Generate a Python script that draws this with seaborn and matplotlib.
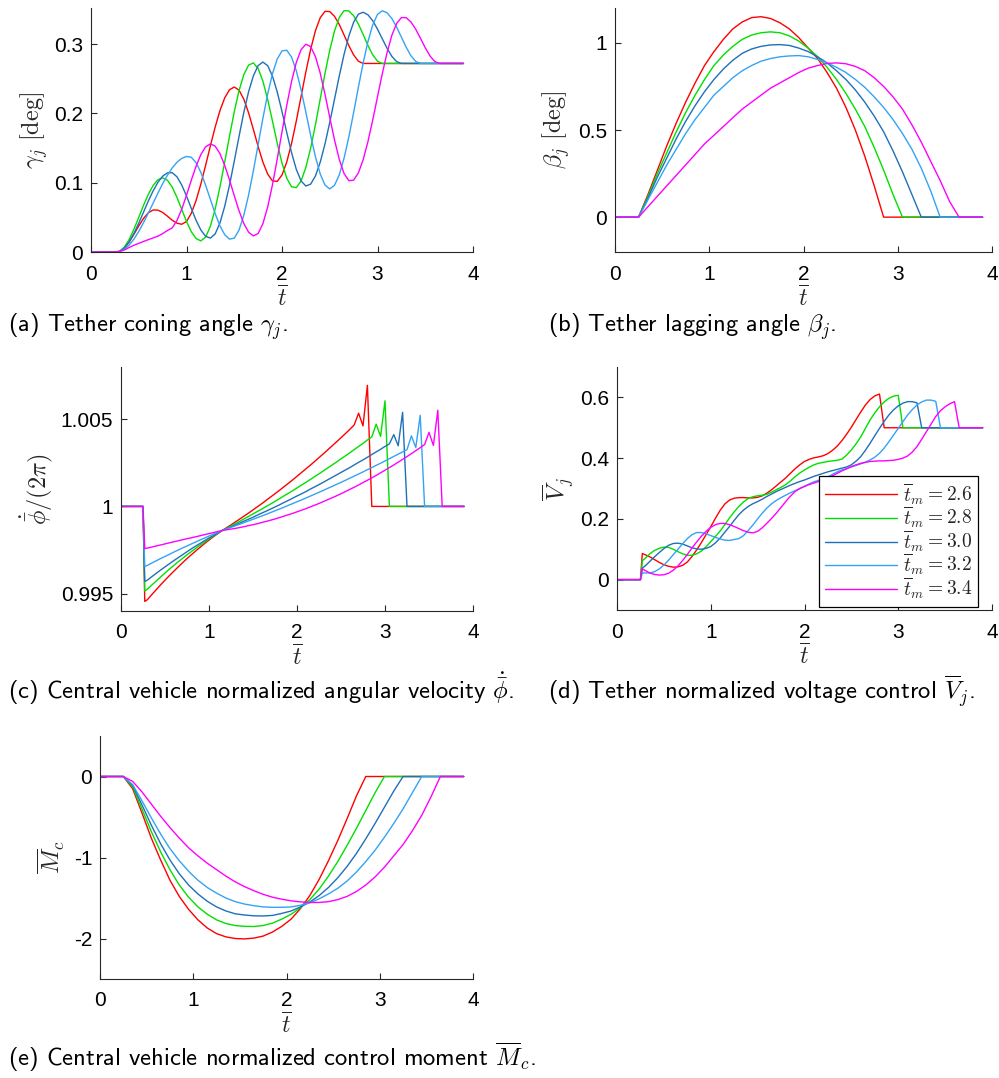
import numpy as np
import pandas as pd
import matplotlib
matplotlib.use("Agg")
import matplotlib.pyplot as plt
import seaborn as sns

# five manoeuvre durations
case_labels = [r"$\overline{t}_m = 2.6$", r"$\overline{t}_m = 2.8$", r"$\overline{t}_m = 3.0$",
               r"$\overline{t}_m = 3.2$", r"$\overline{t}_m = 3.4$"]
colors = ["#ff0000", "#00e000", "#1f70b8", "#33a3f5", "#ff00ff"]

xticks = [0, 1, 2, 3, 4]
xtick_labels = ["0", "1", "2", "3", "4"]

# time grids
t_a = np.round(np.concatenate([[0.0], np.arange(0.25, 3.9001, 0.05)]), 2)
t_cd = np.round(np.concatenate([[0.0, 0.25, 0.27], np.arange(0.30, 3.9001, 0.05)]), 2)
t_be = np.round(np.concatenate([[0.0], np.arange(0.25, 3.8501, 0.1), [3.9]]), 2)

# (a) tether coning angle gamma_j [deg]
gamma_red = [0, 0, 0.0008, 0.0058, 0.0146, 0.0257, 0.0376, 0.0484, 0.0565, 0.0606,
             0.0604, 0.0571, 0.0517, 0.0459, 0.0416, 0.0400,
             0.0440, 0.0557, 0.0742, 0.0979, 0.1249, 0.1531, 0.1801, 0.2038, 0.2223, 0.2340, 0.2380,
             0.2335, 0.2205, 0.2008, 0.1770, 0.1522, 0.1297, 0.1124, 0.1026, 0.1018,
             0.1111, 0.1299, 0.1566, 0.1891, 0.2245, 0.2599, 0.2924, 0.3191, 0.3379, 0.3472,
             0.3468, 0.3400, 0.3281, 0.3131, 0.2977, 0.2843, 0.2752, 0.2720] + [0.272] * 21
gamma_green = [0, 0, 0.0010, 0.0072, 0.0182, 0.0330, 0.0500, 0.0673, 0.0832, 0.0959, 0.1042, 0.1070,
               0.1035, 0.0937, 0.0789, 0.0615, 0.0441, 0.0293, 0.0195, 0.0160,
               0.0214, 0.0372, 0.0619, 0.0936, 0.1296, 0.1668, 0.2022, 0.2328, 0.2558, 0.2696,
               0.2728, 0.2648, 0.2465, 0.2201, 0.1890, 0.1570, 0.1283, 0.1064, 0.0941,
               0.0929, 0.1025, 0.1221, 0.1499, 0.1836, 0.2205, 0.2574, 0.2911, 0.3189, 0.3385, 0.3481,
               0.3478, 0.3409, 0.3288, 0.3137, 0.2980, 0.2844, 0.2752, 0.2720] + [0.272] * 17
gamma_blue = [0, 0, 0.0008, 0.0057, 0.0146, 0.0269, 0.0416, 0.0575, 0.0735, 0.0880, 0.1004, 0.1093, 0.1142,
              0.1145, 0.1085, 0.0967, 0.0808, 0.0630, 0.0458, 0.0318, 0.0227,
              0.0200, 0.0261, 0.0418, 0.0658, 0.0963, 0.1309, 0.1667, 0.2013, 0.2311, 0.2540, 0.2689, 0.2740,
              0.2688, 0.2539, 0.2310, 0.2027, 0.1723, 0.1433, 0.1191, 0.1024, 0.0952,
              0.0979, 0.1096, 0.1294, 0.1558, 0.1869, 0.2205, 0.2541, 0.2852, 0.3116, 0.3314, 0.3431,
              0.3459, 0.3422, 0.3336, 0.3215, 0.3076, 0.2939, 0.2823, 0.2747, 0.2720] + [0.272] * 13
gamma_lblue = [0, 0, 0.0005, 0.0038, 0.0100, 0.0187, 0.0296, 0.0423, 0.0561, 0.0704, 0.0848, 0.0984, 0.1107,
               0.1212, 0.1295, 0.1351, 0.1378,
               0.1367, 0.1289, 0.1149, 0.0965, 0.0759, 0.0555, 0.0378, 0.0250, 0.0186,
               0.0199, 0.0316, 0.0529, 0.0821, 0.1170, 0.1550, 0.1930, 0.2279, 0.2571, 0.2784, 0.2901,
               0.2911, 0.2812, 0.2614, 0.2338, 0.2016, 0.1682, 0.1374, 0.1126, 0.0966, 0.0910,
               0.0962, 0.1114, 0.1354, 0.1661, 0.2012, 0.2378, 0.2729, 0.3036, 0.3276, 0.3428, 0.3480,
               0.3451, 0.3369, 0.3245, 0.3100, 0.2955, 0.2831, 0.2749, 0.2720] + [0.272] * 9
gamma_mag = [0, 0, 0.0008, 0.0030, 0.0065, 0.0098, 0.0125, 0.0152, 0.0178, 0.0203, 0.0228, 0.0265, 0.0310,
             0.0347, 0.0454, 0.0617, 0.0819, 0.1034, 0.1237, 0.1405, 0.1517, 0.1560,
             0.1527, 0.1420, 0.1251, 0.1040, 0.0813, 0.0595, 0.0412, 0.0286, 0.0232,
             0.0266, 0.0409, 0.0649, 0.0968, 0.1340, 0.1734, 0.2117, 0.2460, 0.2735, 0.2919, 0.2998,
             0.2963, 0.2819, 0.2581, 0.2277, 0.1942, 0.1616, 0.1334, 0.1131, 0.1029,
             0.1037, 0.1142, 0.1332, 0.1593, 0.1904, 0.2239, 0.2571, 0.2875, 0.3124, 0.3296, 0.3382,
             0.3380, 0.3319, 0.3214, 0.3083, 0.2946, 0.2828, 0.2748, 0.2720] + [0.272] * 5

# (b) tether lagging angle beta_j [deg]
beta_red = [0, 0, 0.13, 0.27, 0.41, 0.54, 0.66, 0.77, 0.87, 0.95, 1.02, 1.08,
            1.12, 1.145, 1.15, 1.14, 1.115, 1.08, 1.03, 0.97, 0.91, 0.83,
            0.74, 0.63, 0.50, 0.35, 0.18] + [0] * 12
beta_green = [0, 0, 0.12, 0.25, 0.37, 0.49, 0.60, 0.70, 0.79, 0.87, 0.93, 0.98,
              1.02, 1.045, 1.058, 1.063, 1.058, 1.04, 1.01, 0.97, 0.92, 0.86,
              0.79, 0.71, 0.62, 0.52, 0.40, 0.27, 0.13] + [0] * 10
beta_blue = [0, 0, 0.11, 0.23, 0.34, 0.45, 0.55, 0.64, 0.72, 0.79, 0.85, 0.90,
             0.94, 0.965, 0.98, 0.988, 0.99, 0.985, 0.97, 0.95, 0.92, 0.885,
             0.84, 0.79, 0.73, 0.66, 0.58, 0.49, 0.38, 0.26, 0.13] + [0] * 8
beta_lblue = [0, 0, 0.10, 0.20, 0.30, 0.39, 0.48, 0.56, 0.63, 0.70, 0.75, 0.80,
              0.84, 0.87, 0.895, 0.91, 0.92, 0.925, 0.927, 0.92, 0.905, 0.885,
              0.86, 0.83, 0.79, 0.745, 0.69, 0.63, 0.56, 0.48, 0.39, 0.28, 0.15] + [0] * 6
beta_mag = [0, 0, 0.06, 0.12, 0.18, 0.24, 0.30, 0.36, 0.42, 0.47, 0.52, 0.57,
            0.62, 0.66, 0.70, 0.74, 0.77, 0.80, 0.83, 0.855, 0.87, 0.882,
            0.885, 0.88, 0.865, 0.84, 0.80, 0.75, 0.69, 0.62, 0.53, 0.43, 0.32, 0.21, 0.09] + [0] * 4

# (c) central vehicle normalized angular velocity
phid_red = [1, 1, 0.99455, 0.99465, 0.99494, 0.99522, 0.99550, 0.99577, 0.99603, 0.99628, 0.99653,
            0.99677, 0.99701, 0.99723, 0.99745, 0.99766, 0.99787, 0.99807, 0.99826, 0.99844, 0.99862,
            0.99878, 0.99894, 0.99911, 0.99928, 0.99945, 0.99962, 0.99980, 0.99998, 1.00016, 1.00035,
            1.00054, 1.00073, 1.00092, 1.00112, 1.00132, 1.00152, 1.00173, 1.00194, 1.00215, 1.00236,
            1.00258, 1.00280, 1.00302, 1.00325, 1.00348, 1.00371, 1.00394, 1.00418, 1.00442,
            1.00468, 1.00535, 1.00462, 1.00695] + [1.0] * 22
phid_green = [1, 1, 0.99515, 0.99525, 0.99549, 0.99572, 0.99595, 0.99618, 0.99640, 0.99661, 0.99682,
              0.99702, 0.99722, 0.99741, 0.99760, 0.99778, 0.99796, 0.99813, 0.99830, 0.99846, 0.99862,
              0.99875, 0.99888, 0.99902, 0.99915, 0.99929, 0.99943, 0.99957, 0.99971, 0.99985, 1.00000,
              1.00014, 1.00029, 1.00044, 1.00060, 1.00075, 1.00090, 1.00106, 1.00122, 1.00138, 1.00154,
              1.00171, 1.00187, 1.00204, 1.00221, 1.00238, 1.00255, 1.00273, 1.00290, 1.00308, 1.00326,
              1.00344, 1.00362, 1.00381,
              1.00399, 1.00472, 1.00402, 1.00606] + [1.0] * 18
phid_blue = [1, 1, 0.99570, 0.99577, 0.99597, 0.99616, 0.99635, 0.99653, 0.99671, 0.99689, 0.99706,
             0.99723, 0.99740, 0.99757, 0.99773, 0.99788, 0.99804, 0.99819, 0.99833, 0.99848, 0.99862,
             0.99873, 0.99883, 0.99894, 0.99905, 0.99916, 0.99927, 0.99938, 0.99950, 0.99962, 0.99973,
             0.99985, 0.99997, 1.00009, 1.00022, 1.00034, 1.00047, 1.00060, 1.00072, 1.00085, 1.00099,
             1.00112, 1.00125, 1.00139, 1.00153, 1.00167, 1.00181, 1.00195, 1.00209, 1.00223, 1.00238,
             1.00253, 1.00267, 1.00282, 1.00298, 1.00313, 1.00328, 1.00344, 1.00359,
             1.00412, 1.00348, 1.00540] + [1.0] * 14
phid_lblue = [1, 1, 0.99656, 0.99662, 0.99675, 0.99688, 0.99701, 0.99713, 0.99725, 0.99738, 0.99750,
              0.99762, 0.99773, 0.99785, 0.99796, 0.99808, 0.99819, 0.99830, 0.99841, 0.99851, 0.99862,
              0.99871, 0.99880, 0.99889, 0.99898, 0.99907, 0.99917, 0.99926, 0.99936, 0.99945, 0.99955,
              0.99965, 0.99975, 0.99985, 0.99995, 1.00006, 1.00016, 1.00027, 1.00037, 1.00048, 1.00059,
              1.00070, 1.00081, 1.00092, 1.00104, 1.00115, 1.00127, 1.00138, 1.00150, 1.00162, 1.00174,
              1.00186, 1.00198, 1.00211, 1.00223, 1.00236, 1.00248, 1.00261, 1.00274, 1.00287, 1.00300,
              1.00313, 1.00326,
              1.00405, 1.00338, 1.00523] + [1.0] * 10
phid_mag = [1, 1, 0.99758, 0.99761, 0.99767, 0.99773, 0.99779, 0.99785, 0.99791, 0.99797, 0.99803,
            0.99809, 0.99815, 0.99820, 0.99826, 0.99832, 0.99838, 0.99844, 0.99850, 0.99856, 0.99862,
            0.99866, 0.99870, 0.99874, 0.99879, 0.99884, 0.99890, 0.99895, 0.99901, 0.99908, 0.99914,
            0.99921, 0.99928, 0.99936, 0.99944, 0.99952, 0.99960, 0.99969, 0.99978, 0.99987, 0.99997,
            1.00007, 1.00017, 1.00028, 1.00039, 1.00050, 1.00061, 1.00073, 1.00085, 1.00098, 1.00110,
            1.00123, 1.00137, 1.00150, 1.00164, 1.00178, 1.00193, 1.00208, 1.00223, 1.00238, 1.00254,
            1.00270, 1.00286, 1.00303, 1.00320, 1.00337, 1.00355,
            1.00425, 1.00350, 1.00552] + [1.0] * 6

# (d) tether normalized voltage control
volt_red = [0, 0, 0.086,
            0.082, 0.075, 0.066, 0.057, 0.049, 0.044, 0.041, 0.042, 0.047, 0.058,
            0.076, 0.098, 0.122, 0.148, 0.174, 0.202, 0.228, 0.249, 0.262, 0.268,
            0.270, 0.270, 0.269, 0.269, 0.271, 0.276, 0.285, 0.296, 0.309, 0.322,
            0.335, 0.350, 0.365, 0.378, 0.389, 0.396, 0.401, 0.404, 0.408, 0.415,
            0.426, 0.440, 0.458, 0.479, 0.502, 0.527, 0.552, 0.575, 0.593, 0.605,
            0.611] + [0.5] * 22
volt_green = [0, 0, 0.062,
              0.070, 0.085, 0.096, 0.103, 0.107, 0.106, 0.100, 0.092, 0.085, 0.080,
              0.080, 0.085, 0.094, 0.108, 0.125, 0.142, 0.160, 0.181, 0.203, 0.223,
              0.241, 0.256, 0.267, 0.273, 0.276, 0.278, 0.281, 0.288, 0.296, 0.304,
              0.313, 0.325, 0.339, 0.351, 0.361, 0.370, 0.378, 0.383, 0.386, 0.389,
              0.391, 0.393, 0.397, 0.410, 0.427, 0.447, 0.470, 0.498, 0.526, 0.549,
              0.569, 0.585, 0.597, 0.604, 0.607] + [0.5] * 18
volt_blue = [0, 0, 0.038,
             0.045, 0.060, 0.075, 0.089, 0.102, 0.113, 0.119, 0.120, 0.117, 0.111,
             0.105, 0.101, 0.100, 0.103, 0.109, 0.121, 0.137, 0.156, 0.175, 0.195,
             0.214, 0.229, 0.241, 0.250, 0.257, 0.265, 0.274, 0.282, 0.290, 0.297,
             0.304, 0.311, 0.317, 0.323, 0.328, 0.334, 0.340, 0.345, 0.350, 0.355,
             0.359, 0.363, 0.367, 0.371, 0.378, 0.390, 0.405, 0.426, 0.449, 0.474,
             0.498, 0.521, 0.542, 0.559, 0.572, 0.581, 0.586, 0.586, 0.582] + [0.5] * 14
volt_lblue = [0, 0, 0.022,
              0.022, 0.022, 0.026, 0.035, 0.048, 0.064, 0.082, 0.100, 0.118, 0.135,
              0.148, 0.155, 0.155, 0.151, 0.145, 0.139, 0.134, 0.130, 0.129, 0.132,
              0.135, 0.145, 0.162, 0.180, 0.200, 0.219, 0.236, 0.250, 0.261, 0.270,
              0.278, 0.286, 0.293, 0.300, 0.307, 0.315, 0.322, 0.327, 0.331, 0.338,
              0.347, 0.355, 0.361, 0.366, 0.371, 0.376, 0.381, 0.387, 0.394, 0.403,
              0.416, 0.433, 0.454, 0.476, 0.498, 0.520, 0.542, 0.560, 0.575, 0.585,
              0.591, 0.591, 0.587] + [0.5] * 10
volt_mag = [0, 0, 0.036,
            0.030, 0.022, 0.017, 0.015, 0.016, 0.021, 0.031, 0.045, 0.063, 0.083,
            0.104, 0.124, 0.143, 0.159, 0.172, 0.181, 0.185, 0.185, 0.181, 0.175,
            0.168, 0.161, 0.156, 0.154, 0.159, 0.171, 0.186, 0.202, 0.219, 0.238,
            0.257, 0.275, 0.290, 0.300, 0.307, 0.313, 0.318, 0.323, 0.328, 0.335,
            0.342, 0.350, 0.358, 0.365, 0.372, 0.378, 0.383, 0.386, 0.389, 0.390,
            0.391, 0.391, 0.392, 0.393, 0.396, 0.400, 0.407, 0.420, 0.438, 0.462,
            0.487, 0.512, 0.537, 0.556, 0.569, 0.579, 0.586] + [0.5] * 6

# (e) central vehicle normalized control moment
moment_red = [0, 0, -0.15, -0.45, -0.76, -1.03, -1.28, -1.48, -1.64, -1.77, -1.87, -1.94,
              -1.98, -2.0, -2.005, -1.995, -1.97, -1.92, -1.85, -1.76, -1.63, -1.47,
              -1.27, -1.04, -0.79, -0.52, -0.24] + [0] * 12
moment_green = [0, 0, -0.13, -0.40, -0.68, -0.93, -1.15, -1.34, -1.49, -1.61, -1.70, -1.77,
                -1.815, -1.84, -1.85, -1.852, -1.84, -1.81, -1.76, -1.70, -1.62, -1.52,
                -1.39, -1.23, -1.05, -0.85, -0.64, -0.42, -0.20] + [0] * 10
moment_blue = [0, 0, -0.11, -0.35, -0.60, -0.83, -1.03, -1.20, -1.34, -1.45, -1.54, -1.61,
               -1.66, -1.695, -1.71, -1.72, -1.722, -1.715, -1.69, -1.66, -1.61, -1.55,
               -1.47, -1.37, -1.25, -1.11, -0.95, -0.77, -0.58, -0.38, -0.18] + [0] * 8
moment_lblue = [0, 0, -0.10, -0.30, -0.51, -0.71, -0.89, -1.04, -1.17, -1.28, -1.37, -1.44,
                -1.50, -1.545, -1.575, -1.595, -1.61, -1.615, -1.615, -1.61, -1.59, -1.56,
                -1.51, -1.45, -1.38, -1.29, -1.18, -1.05, -0.91, -0.75, -0.58, -0.40, -0.20] + [0] * 6
moment_mag = [0, 0, -0.06, -0.19, -0.34, -0.49, -0.63, -0.76, -0.88, -0.98, -1.07, -1.15,
              -1.23, -1.30, -1.36, -1.41, -1.455, -1.49, -1.515, -1.535, -1.548, -1.555,
              -1.555, -1.545, -1.52, -1.48, -1.42, -1.34, -1.24, -1.12, -0.98, -0.84, -0.67,
              -0.48, -0.25] + [0] * 4

ink = "#262626"

sns.set_style("ticks")
plt.rcParams["font.family"] = ["Liberation Sans", "DejaVu Sans"]
plt.rcParams["mathtext.fontset"] = "cm"
plt.rcParams["axes.edgecolor"] = ink
plt.rcParams["axes.linewidth"] = 0.8


def draw(ax, t, series, legend=False):
    for s in series:
        assert len(s) == len(t), (len(s), len(t))
    df = pd.DataFrame({
        "t": np.tile(t, len(series)),
        "v": np.concatenate([np.asarray(s, dtype=float) for s in series]),
        "case": np.repeat(case_labels, len(t)),
    })
    sns.lineplot(data=df, x="t", y="v", hue="case", hue_order=case_labels,
                 palette=colors, linewidth=1.0, estimator=None, sort=False,
                 ax=ax, legend=legend)


def style(ax, ylim, yticks, yticklabels, ylabel, ylab_x):
    ax.set_xlim(0, 4)
    ax.set_ylim(*ylim)
    ax.set_xticks(xticks)
    ax.set_xticklabels(xtick_labels)
    ax.set_yticks(yticks)
    ax.set_yticklabels(yticklabels)
    sns.despine(ax=ax)
    ax.tick_params(direction="in", length=4, width=0.8, labelsize=15,
                   colors=ink, labelcolor="black")
    ax.tick_params(axis="x", pad=9)
    ax.tick_params(axis="y", pad=5.5)
    ax.set_xlabel(r"$\overline{t}$", fontsize=17, color=ink)
    ax.xaxis.set_label_coords(0.5, -0.14)
    ax.set_ylabel(ylabel, fontsize=17.5, color=ink)
    ax.yaxis.set_label_coords(ylab_x, 0.5)


W, H = 999, 1078
fig = plt.figure(figsize=(W / 100, H / 100), dpi=100)


def px_axes(left, top, right, bottom):
    return fig.add_axes([left / W, 1 - bottom / H, (right - left) / W, (bottom - top) / H])


ax_a = px_axes(91, 8, 473, 252)
ax_b = px_axes(615, 8, 992, 252)
ax_c = px_axes(121, 367, 473, 611)
ax_d = px_axes(617, 367, 992, 610)
ax_e = px_axes(100, 736, 473, 979)

draw(ax_a, t_a, [gamma_red, gamma_green, gamma_blue, gamma_lblue, gamma_mag])
style(ax_a, (0, 0.352), [0, 0.1, 0.2, 0.3], ["0", "0.1", "0.2", "0.3"],
      r"$\gamma_j\ [\mathrm{deg}]$", -0.107)

draw(ax_b, t_be, [beta_red, beta_green, beta_blue, beta_lblue, beta_mag])
style(ax_b, (-0.2, 1.2), [0, 0.5, 1], ["0", "0.5", "1"],
      r"$\beta_j\ [\mathrm{deg}]$", -0.113)

draw(ax_c, t_cd, [phid_red, phid_green, phid_blue, phid_lblue, phid_mag])
style(ax_c, (0.994, 1.008), [0.995, 1.0, 1.005], ["0.995", "1", "1.005"],
      r"$\dot{\bar{\phi}}/(2\pi)$", -0.187)

draw(ax_d, t_cd, [volt_red, volt_green, volt_blue, volt_lblue, volt_mag], legend=True)
style(ax_d, (-0.1, 0.7), [0, 0.2, 0.4, 0.6], ["0", "0.2", "0.4", "0.6"],
      r"$\overline{V}_j$", -0.11)
sns.move_legend(ax_d, "lower right", bbox_to_anchor=(0.963, 0.014), title=None,
                frameon=True, fancybox=False, framealpha=1, edgecolor="black",
                fontsize=14, handlelength=3.7, handletextpad=0.3, borderpad=0.3,
                labelspacing=-0.08, borderaxespad=0)
ax_d.get_legend().get_frame().set_linewidth(0.9)

draw(ax_e, t_be, [moment_red, moment_green, moment_blue, moment_lblue, moment_mag])
style(ax_e, (-2.5, 0.5), [-2, -1, 0], ["-2", "-1", "0"],
      r"$\overline{M}_c$", -0.088)

cap = dict(fontsize=17.7, fontfamily="cmss10", va="baseline", ha="left", color="black")
fig.text(8 / W, 1 - 332 / H, r"(a) Tether coning angle $\gamma_j$.", **cap)
fig.text(548 / W, 1 - 332 / H, r"(b) Tether lagging angle $\beta_j$.", **cap)
fig.text(8 / W, 1 - 699 / H, r"(c) Central vehicle normalized angular velocity $\dot{\bar{\phi}}$.", **cap)
fig.text(548 / W, 1 - 699 / H, r"(d) Tether normalized voltage control $\overline{V}_j$.", **cap)
fig.text(8 / W, 1 - 1066 / H, r"(e) Central vehicle normalized control moment $\overline{M}_c$.", **cap)

fig.savefig("out.png", dpi=100)
